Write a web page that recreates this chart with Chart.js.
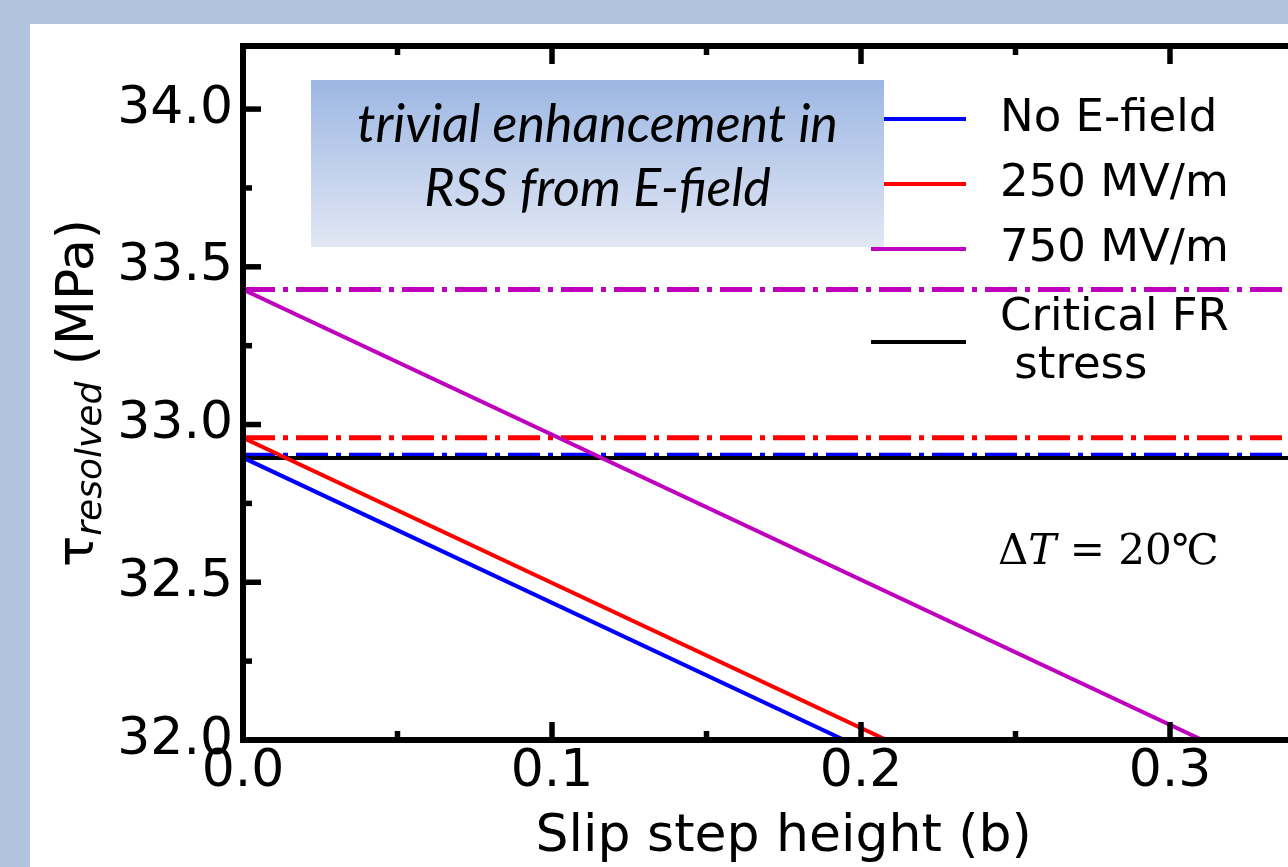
<!DOCTYPE html>
<html>
<head>
<meta charset="utf-8">
<script src="https://cdn.jsdelivr.net/npm/chart.js@4.4.1/dist/chart.umd.min.js"></script>
<style>
  html, body { margin: 0; padding: 0; width: 1288px; height: 867px; overflow: hidden; background: #b0c4de; }
  #panel { position: absolute; left: 30px; top: 24px; width: 1400px; height: 843px; background: #ffffff; }
  canvas { display: block; }
</style>
</head>
<body>
<div id="panel"><canvas id="rss" width="1400" height="843"></canvas></div>
<script>
// Slip step height (in units of b) and resolved shear stress (MPa)
const slipStep = [0.0, 0.35];
const rssNoField = [32.895, 31.285];
const rss250 = [32.958, 31.348];
const rss750 = [33.428, 31.818];

// Stress level at zero step height for each field strength
const rssZeroNoField = [32.903, 32.903];
const rssZero250 = [32.958, 32.958];
const rssZero750 = [33.428, 33.428];

// Critical Frank-Read source stress
const criticalFR = [32.894, 32.894];

// Axis ticks
const xTickValues = [0.0, 0.1, 0.2, 0.3];
const xMinorValues = [0.05, 0.15, 0.25];
const yTickValues = [32.0, 32.5, 33.0, 33.5, 34.0];
const yMinorValues = [32.25, 32.75, 33.25, 33.75];

// Legend text
const legendLabels = ['No E-field', '250 MV/m', '750 MV/m', ['Critical FR', ' stress']];

const BLUE = '#0000ff', RED = '#ff0000', MAGENTA = '#bf00bf', BLACK = '#000000';
const DASH_DOT = [32, 8, 5, 8];
const SANS = '"DejaVu Sans", sans-serif';

const pts = (xs, ys) => xs.map((x, i) => ({ x: x, y: ys[i] }));

const lineSet = (label, ys, color, order, extra) => Object.assign({
  label: label,
  data: pts(slipStep, ys),
  borderColor: color,
  backgroundColor: color,
  borderWidth: 4,
  pointRadius: 0,
  fill: false,
  tension: 0,
  order: order
}, extra || {});

const datasets = [
  lineSet(legendLabels[0], rssNoField, BLUE, 1, { legendIndex: 0 }),
  lineSet(legendLabels[1], rss250, RED, 2, { legendIndex: 1 }),
  lineSet(legendLabels[2], rss750, MAGENTA, 3, { legendIndex: 2 }),
  lineSet('Critical FR stress', criticalFR, BLACK, 4, { legendIndex: 3 }),
  lineSet('No E-field, b = 0', rssZeroNoField, BLUE, 5, { borderDash: DASH_DOT, borderWidth: 5 }),
  lineSet('250 MV/m, b = 0', rssZero250, RED, 6, { borderDash: DASH_DOT, borderWidth: 5 }),
  lineSet('750 MV/m, b = 0', rssZero750, MAGENTA, 7, { borderDash: DASH_DOT, borderWidth: 5 })
];

function dropScalePadding(scale) {
  scale.paddingTop = 0; scale.paddingBottom = 0;
  scale.paddingLeft = 0; scale.paddingRight = 0;
}

// Frame, inward ticks, legend, annotation box and y-axis title
const decorations = {
  id: 'decorations',
  afterDatasetsDraw(chart) {
    const ctx = chart.ctx;
    const area = chart.chartArea;
    const xs = chart.scales.x, ys = chart.scales.y;
    ctx.save();

    // inward tick marks on all four sides
    ctx.strokeStyle = BLACK;
    ctx.lineWidth = 5.5;
    ctx.lineCap = 'butt';
    const xTick = (v, len) => {
      const px = xs.getPixelForValue(v);
      ctx.beginPath(); ctx.moveTo(px, area.bottom); ctx.lineTo(px, area.bottom - len); ctx.stroke();
      ctx.beginPath(); ctx.moveTo(px, area.top); ctx.lineTo(px, area.top + len); ctx.stroke();
    };
    const yTick = (v, len) => {
      const py = ys.getPixelForValue(v);
      ctx.beginPath(); ctx.moveTo(area.left, py); ctx.lineTo(area.left + len, py); ctx.stroke();
      ctx.beginPath(); ctx.moveTo(area.right, py); ctx.lineTo(area.right - len, py); ctx.stroke();
    };
    xTickValues.forEach(v => xTick(v, 18));
    xMinorValues.forEach(v => xTick(v, 9));
    yTickValues.forEach(v => yTick(v, 18));
    yMinorValues.forEach(v => yTick(v, 9));

    // axes frame
    ctx.lineWidth = 6;
    ctx.strokeRect(area.left, area.top, area.right - area.left, area.bottom - area.top);

    // legend
    ctx.font = '45px ' + SANS;
    ctx.fillStyle = BLACK;
    ctx.textAlign = 'left';
    ctx.textBaseline = 'middle';
    const handleX0 = 841, handleX1 = 936, textX = 970;
    const rowY = [95, 160, 225, 318];
    chart.data.datasets.forEach(ds => {
      if (ds.legendIndex === undefined) return;
      const i = ds.legendIndex;
      ctx.strokeStyle = ds.borderColor;
      ctx.lineWidth = 4;
      ctx.setLineDash([]);
      ctx.beginPath(); ctx.moveTo(handleX0, rowY[i]); ctx.lineTo(handleX1, rowY[i]); ctx.stroke();
      const lbl = legendLabels[i];
      if (Array.isArray(lbl)) {
        ctx.fillText(lbl[0], textX, rowY[i] - 24);
        ctx.fillText(lbl[1], textX, rowY[i] + 24);
      } else {
        ctx.fillText(lbl, textX, rowY[i]);
      }
    });

    // annotation box
    const bx = 281, by = 56, bw = 573, bh = 167;
    const grad = ctx.createLinearGradient(0, by, 0, by + bh);
    grad.addColorStop(0, '#9db7e3');
    grad.addColorStop(1, '#e1e7f4');
    ctx.fillStyle = grad;
    ctx.fillRect(bx, by, bw, bh);
    ctx.fillStyle = BLACK;
    ctx.textAlign = 'center';
    ctx.textBaseline = 'alphabetic';
    ctx.font = 'italic 52px Lato, sans-serif';
    ctx.fillText('trivial enhancement in', bx + bw / 2, 118);
    ctx.fillText('RSS from E-field', bx + bw / 2, 182);

    // temperature note
    ctx.textAlign = 'left';
    let tx = 968;
    const ty = 540;
    const serif = '"DejaVu Serif", serif';
    ctx.font = '42px ' + serif;
    ctx.fillText('\u0394', tx, ty); tx += ctx.measureText('\u0394').width;
    ctx.font = 'italic 42px ' + serif;
    ctx.fillText('T', tx, ty); tx += ctx.measureText('T').width;
    ctx.font = '42px ' + serif;
    ctx.fillText(' = 20\u2103', tx, ty);

    // y-axis title: tau with italic subscript, then unit
    const mainFont = '52px ' + SANS;
    const subFont = 'oblique 36px ' + SANS;
    ctx.font = mainFont; const wTau = ctx.measureText('\u03c4').width;
    const wUnit = ctx.measureText(' (MPa)').width;
    ctx.font = subFont; const wSub = ctx.measureText('resolved').width;
    const total = wTau + wSub + wUnit;
    ctx.translate(63, (area.top + area.bottom) / 2);
    ctx.rotate(-Math.PI / 2);
    let p = -total / 2;
    ctx.textAlign = 'left';
    ctx.textBaseline = 'alphabetic';
    ctx.font = mainFont; ctx.fillText('\u03c4', p, 0); p += wTau;
    ctx.font = subFont; ctx.fillText('resolved', p, 8); p += wSub;
    ctx.font = mainFont; ctx.fillText(' (MPa)', p, 0);

    ctx.restore();
  }
};

new Chart(document.getElementById('rss'), {
  type: 'line',
  data: { datasets: datasets },
  options: {
    responsive: false,
    animation: false,
    events: [],
    layout: { padding: { left: 0, top: 22, right: 105.5, bottom: 0 } },
    plugins: { legend: { display: false }, tooltip: { enabled: false } },
    scales: {
      x: {
        type: 'linear',
        min: 0, max: 0.35,
        afterBuildTicks: s => { s.ticks = xTickValues.map(v => ({ value: v })); },
        afterFit: s => { s.height = 127; dropScalePadding(s); },
        grid: { display: false, drawTicks: false },
        border: { display: false },
        ticks: {
          color: BLACK, padding: 1, maxRotation: 0, autoSkip: false,
          font: { family: SANS, size: 52 },
          callback: v => Number(v).toFixed(1)
        },
        title: {
          display: true, text: 'Slip step height (b)', color: BLACK,
          font: { family: SANS, size: 52 }, padding: { top: 0, bottom: -2 }
        }
      },
      y: {
        type: 'linear',
        min: 32.0, max: 34.2,
        afterBuildTicks: s => { s.ticks = yTickValues.map(v => ({ value: v })); },
        afterFit: s => { s.width = 213; dropScalePadding(s); },
        grid: { display: false, drawTicks: false },
        border: { display: false },
        ticks: {
          color: BLACK, padding: 10, autoSkip: false,
          font: { family: SANS, size: 52 },
          callback: v => Number(v).toFixed(1)
        }
      }
    }
  },
  plugins: [decorations]
});
</script>
</body>
</html>
